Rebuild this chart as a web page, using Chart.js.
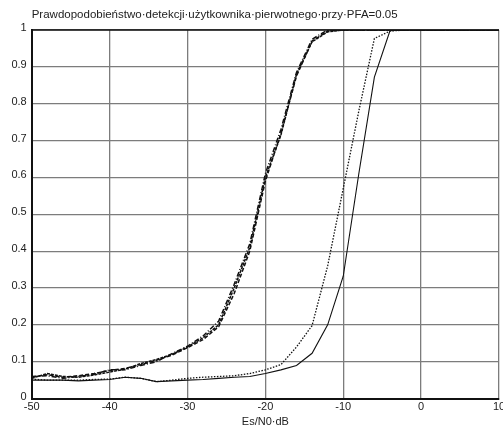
<!DOCTYPE html>
<html>
<head>
<meta charset="utf-8">
<script src="https://cdn.jsdelivr.net/npm/chart.js@4/dist/chart.umd.min.js"></script>
<style>
  html, body { margin: 0; padding: 0; background: #fff; }
  #wrap { width: 503px; height: 432px; }
</style>
</head>
<body>
<div id="wrap"><canvas id="chart" width="503" height="432"></canvas></div>
<script>
const chart_title = 'Prawdopodobieństwo·detekcji·użytkownika·pierwotnego·przy·PFA=0.05'
const x_title = 'Es/N0·dB'

// Es/N0 in dB, every 2 dB
const snr_db = [-50,-48,-46,-44,-42,-40,-38,-36,-34,-32,-30,-28,-26,-24,-22,-20,
                -18,-16,-14,-12,-10,-8,-6,-4,-2,0,2,4,6,8,10]

// left group (three almost identical curves)
const pd_dashed = [0.058,0.065,0.058,0.062,0.068,0.076,0.082,0.092,0.104,0.118,0.138,0.160,0.195,0.285,0.400,0.590,
                   0.720,0.875,0.970,0.997,1,1,1,1,1,1,1,1,1,1,1]
const pd_dashdot = [0.060,0.062,0.055,0.060,0.066,0.078,0.078,0.090,0.100,0.122,0.142,0.170,0.210,0.310,0.420,0.610,
                    0.730,0.885,0.975,1,1,1,1,1,1,1,1,1,1,1,1]
const pd_longdash = [0.055,0.068,0.060,0.058,0.064,0.072,0.080,0.095,0.106,0.120,0.140,0.165,0.200,0.300,0.410,0.600,
                     0.715,0.880,0.968,0.995,1,1,1,1,1,1,1,1,1,1,1]

// right group
const pd_dotted = [0.053,0.050,0.050,0.050,0.052,0.053,0.058,0.055,0.046,0.050,0.055,0.058,0.060,0.062,0.068,0.078,
                   0.092,0.140,0.198,0.360,0.570,0.780,0.977,0.997,1,1,1,1,1,1,1]
const pd_solid = [0.050,0.050,0.050,0.048,0.050,0.052,0.058,0.055,0.046,0.048,0.050,0.052,0.055,0.058,0.060,0.068,
                  0.078,0.090,0.123,0.200,0.332,0.610,0.872,0.998,1,1,1,1,1,1,1]

const font_family = "'Liberation Sans', Arial, sans-serif"

function make_dataset(label, values, dash, width) {
    return {
        label: label,
        data: snr_db.map((x, i) => ({x: x, y: values[i]})),
        borderColor: '#111',
        backgroundColor: '#111',
        borderWidth: width,
        borderDash: dash,
        pointRadius: 0,
        tension: 0,
        showLine: true,
        fill: false
    }
}

// top frame line + title over the plot
const frame_and_title = {
    id: 'frame_and_title',
    afterDraw(chart) {
        const ctx = chart.ctx
        const a = chart.chartArea
        ctx.save()
        ctx.strokeStyle = '#111'
        ctx.lineWidth = 1.5
        ctx.beginPath()
        ctx.moveTo(a.left, a.top)
        ctx.lineTo(a.right, a.top)
        ctx.stroke()
        ctx.fillStyle = '#222'
        ctx.font = '11.5px ' + font_family
        ctx.textBaseline = 'alphabetic'
        ctx.textAlign = 'left'
        ctx.fillText(chart_title, a.left, 17.5)
        ctx.restore()
    }
}

const config = {
    type: 'scatter',
    data: {
        datasets: [
            make_dataset('a', pd_dashed, [4, 2], 1.5),
            make_dataset('b', pd_dashdot, [5, 2, 1, 2], 1.5),
            make_dataset('c', pd_longdash, [3, 1], 1.5),
            make_dataset('dotted', pd_dotted, [1.5, 1.5], 1.3),
            make_dataset('solid', pd_solid, [], 1.1)
        ]
    },
    options: {
        responsive: false,
        animation: false,
        layout: {padding: {top: 30, right: 4, left: 0, bottom: 0}},
        plugins: {legend: {display: false}, tooltip: {enabled: false}},
        scales: {
            x: {
                type: 'linear', min: -50, max: 10,
                ticks: {stepSize: 10, color: '#222', padding: 2, maxRotation: 0,
                        font: {family: font_family, size: 11}},
                grid: {color: '#7c7c7c', lineWidth: 1.3, drawTicks: false},
                border: {color: '#111', width: 2},
                title: {display: true, text: x_title, color: '#222', padding: {top: 0, bottom: 3},
                        font: {family: font_family, size: 11}},
                afterFit: s => { s.paddingLeft = 0; s.paddingRight = 0 }
            },
            y: {
                min: 0, max: 1,
                ticks: {stepSize: 0.1, color: '#222', padding: 5, labelOffset: -2,
                        font: {family: font_family, size: 11},
                        callback: v => String(Math.round(v * 10) / 10)},
                grid: {color: '#7c7c7c', lineWidth: 1.3, drawTicks: false},
                border: {color: '#111', width: 2},
                afterFit: s => { s.width = 31.7; s.paddingTop = 0; s.paddingBottom = 0 }
            }
        }
    },
    plugins: [frame_and_title]
}

new Chart(document.getElementById('chart'), config)
</script>
</body>
</html>
